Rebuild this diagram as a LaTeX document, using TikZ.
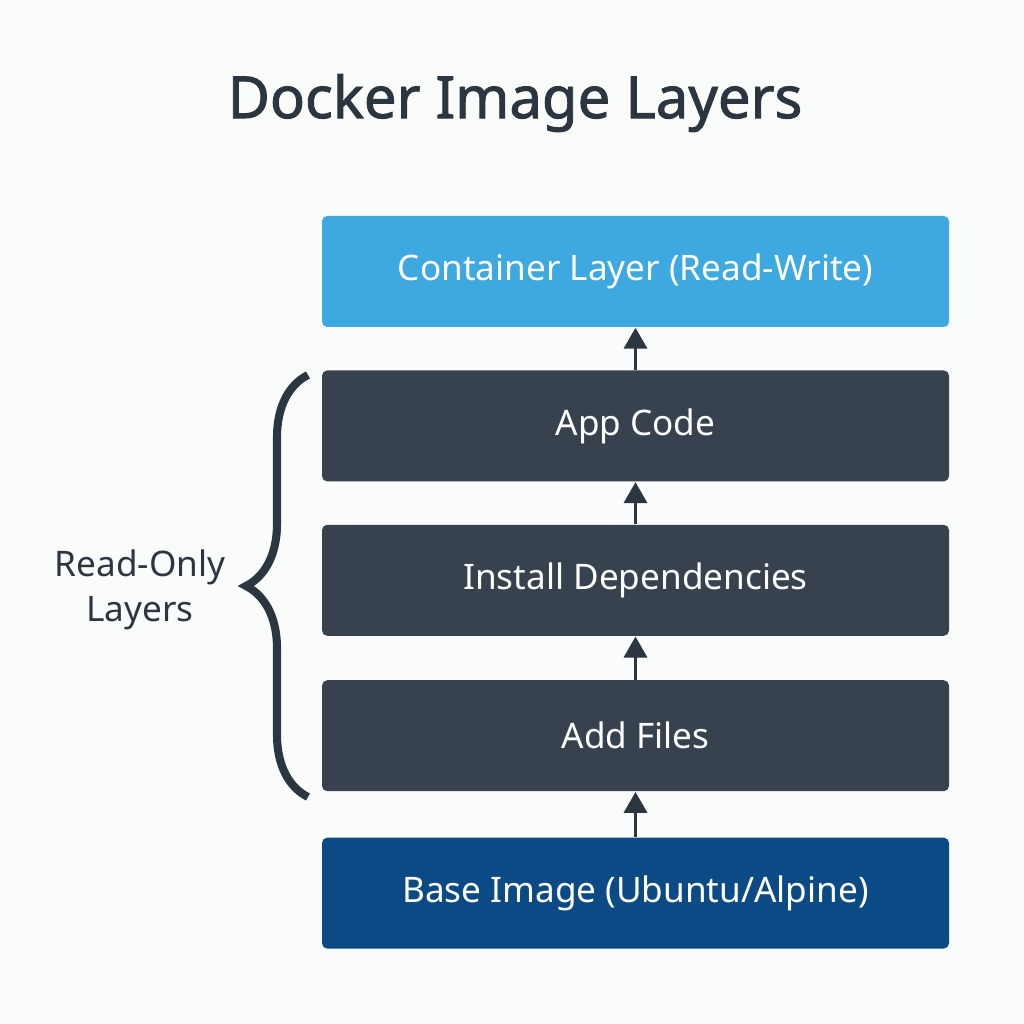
\documentclass[tikz,border=0pt]{standalone}
\usepackage{fontspec}
\setmainfont{Noto Sans}
\newfontfamily\titlefont{Noto Sans}[FakeBold=1.6]
\usepackage{tikz}
\usetikzlibrary{arrows.meta,positioning,decorations.pathreplacing}
\definecolor{bgwhite}{RGB}{250,251,251}
\definecolor{inkdark}{RGB}{44,54,64}
\definecolor{layerblue}{RGB}{61,169,224}
\definecolor{layergray}{RGB}{55,66,78}
\definecolor{basenavy}{RGB}{11,74,133}
\tikzset{
  layerbox/.style={rounded corners=1.5pt, minimum width=6.27cm, minimum height=1.11cm,
                   text=white, font=\fontsize{10}{12}\selectfont},
  uparr/.style={-{Triangle[width=2.3mm, length=2.1mm]}, inkdark, line width=1pt},
}
\begin{document}
\begin{tikzpicture}
  % canvas
  \fill[bgwhite] (0,0) rectangle (10.24,10.24);
  \useasboundingbox (0,0) rectangle (10.24,10.24);
  % title
  \node[text=inkdark, font=\titlefont\fontsize{16.5}{20}\selectfont] (title) at (5.15,9.21) {Docker Image Layers};
  % layers
  \node[layerbox, fill=layerblue] (cont) at (6.355,7.525) {Container Layer (Read-Write)};
  \node[layerbox, fill=layergray, below=0.42cm of cont] (app) {App Code};
  \node[layerbox, fill=layergray, below=0.42cm of app] (deps) {Install Dependencies};
  \node[layerbox, fill=layergray, below=0.43cm of deps] (files) {Add Files};
  \node[layerbox, fill=basenavy, below=0.45cm of files] (base) {Base Image (Ubuntu/Alpine)};
  % arrows
  \draw[uparr] (base.north) -- (files.south);
  \draw[uparr] (files.north) -- (deps.south);
  \draw[uparr] (deps.north) -- (app.south);
  \draw[uparr] (app.north) -- (cont.south);
  % brace
  \coordinate (bracebot) at (3.08,2.27);
  \coordinate (bracetop) at (3.08,6.49);
  \draw[inkdark, line width=2.3pt, decorate, decoration={brace, amplitude=0.62cm}] (bracebot) -- (bracetop);
  \node[text=inkdark, align=center, font=\fontsize{10}{13}\selectfont] (ro) at (1.40,4.34) {Read-Only\\Layers};
\end{tikzpicture}
\end{document}
